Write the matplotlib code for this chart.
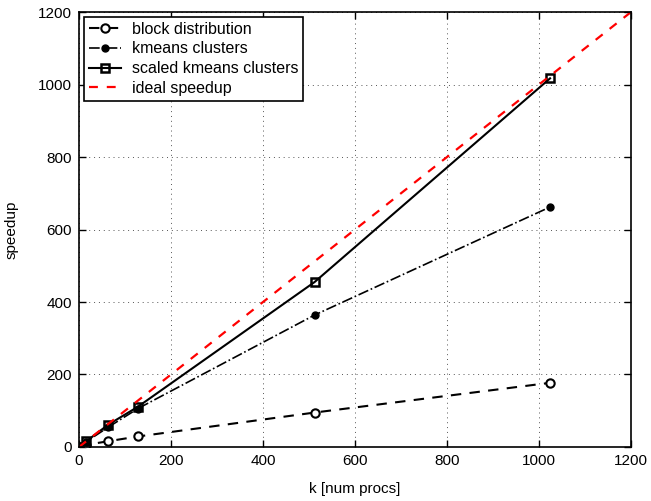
import matplotlib
matplotlib.use("Agg")
import matplotlib.pyplot as plt

plt.rcParams['font.family'] = ['Liberation Sans', 'DejaVu Sans']
plt.rcParams['font.size'] = 11

k = [1, 16, 64, 128, 512, 1024]
block = [1, 6, 16, 29, 95, 177]
kmeans = [1, 15, 55, 106, 364, 662]
scaled = [1, 16, 62, 111, 455, 1017]
ideal_x = [0, 1200]
ideal_y = [0, 1200]

fig = plt.figure(figsize=(6.51, 5.01), dpi=100)
ax = fig.add_axes([0.1214, 0.1078, 0.8479, 0.8682])

ax.plot(k, block, linestyle='--', color='black', lw=1.5, marker='o',
        markersize=6, markerfacecolor='white', markeredgewidth=1.5,
        label='block distribution', dashes=(5, 4))
ax.plot(k, kmeans, linestyle='-.', color='black', lw=1.2, marker='o',
        markersize=5, markerfacecolor='black', label='kmeans clusters')
ax.plot(k, scaled, linestyle='-', color='black', lw=1.5, marker='s',
        markersize=6, markerfacecolor='none', markeredgewidth=1.8,
        label='scaled kmeans clusters')
ax.plot(ideal_x, ideal_y, linestyle='--', color='red', lw=1.6,
        dashes=(4, 4), label='ideal speedup')

ax.set_xlim(0, 1200)
ax.set_ylim(0, 1200)
ax.set_xticks(range(0, 1201, 200))
ax.set_yticks(range(0, 1201, 200))
ax.grid(True, linestyle=(0, (1, 4)), color='#555555', lw=0.7)
ax.tick_params(direction='in', top=True, right=True, length=5, width=1,
               labelsize=11, pad=5)
for s in ax.spines.values():
    s.set_linewidth(1.2)

ax.set_xlabel('k [num procs]', fontsize=11, labelpad=10)
ax.set_ylabel('speedup', fontsize=11, labelpad=14)

leg = ax.legend(loc='upper left', fancybox=False, edgecolor='black',
                framealpha=1, borderaxespad=0.3, handlelength=2.0,
                labelspacing=0.3, borderpad=0.3, handletextpad=0.7,
                fontsize=11.5)
leg.get_frame().set_linewidth(1.2)

fig.savefig('out.png', dpi=100)
